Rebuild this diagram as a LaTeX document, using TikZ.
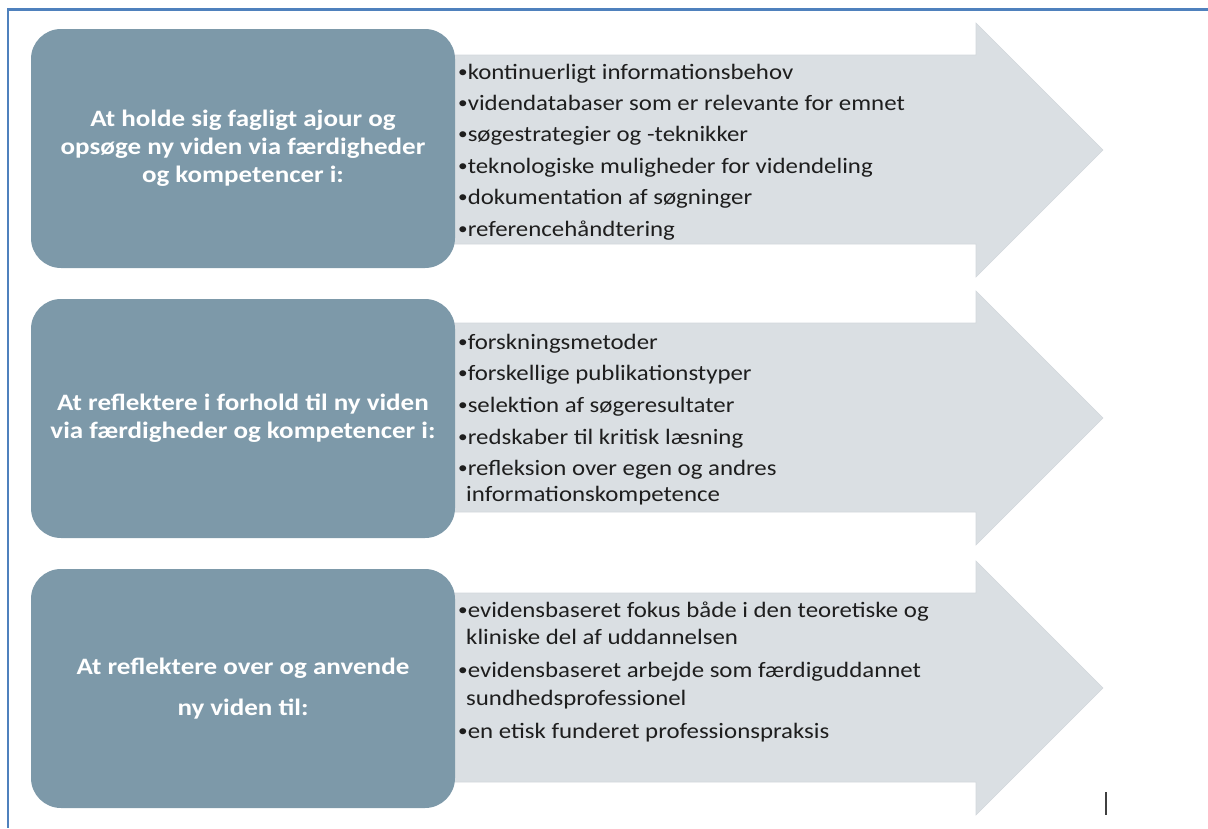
\documentclass[tikz,border=0pt]{standalone}
\usepackage{fontspec}
\setmainfont{Carlito}
\newfontfamily\itemfont[FakeStretch=1.13]{Carlito}
\newfontfamily\headfont[FakeStretch=1.15]{Carlito Bold}
\definecolor{frameblue}{HTML}{4F81BD}
\definecolor{boxslate}{HTML}{7D99A9}
\definecolor{arrowgray}{HTML}{DADFE3}
\definecolor{arrowedge}{HTML}{D3D8DC}
\definecolor{itemtext}{HTML}{1E1E1E}
\definecolor{cursorgray}{HTML}{404040}
\newcommand\itembul{\raisebox{1.6pt}{\fontsize{17}{17}\selectfont•}}
\tikzset{
  headbox/.style={fill=boxslate, draw=none, rounded corners=30pt, minimum width=424pt, minimum height=239pt, inner sep=0pt, align=center, text=white, font=\headfont\fontsize{23.5}{28}\selectfont},
  bigarrow/.style={fill=arrowgray, draw=arrowedge, line width=0.6pt},
  itemline/.style={anchor=base west, inner sep=0pt, text=itemtext, font=\itemfont\fontsize{22}{26.5}\selectfont},
  framerule/.style={draw=frameblue, line width=2.5pt}
}
\begin{document}
\begin{tikzpicture}[x=1pt,y=-1pt]
\path[use as bounding box] (0,0) rectangle (1208,828);
% frame
\coordinate (ftl) at (8,9.5);
\coordinate (ftr) at (1208,9.5);
\coordinate (fbl) at (8,828);
\draw[framerule] (ftr) -- (ftl) -- (fbl);
% arrows
\foreach \c/\n in {150/a1,418/a2,688/a3}{
  \draw[bigarrow] (450,\c-95) -- (976,\c-95) -- (976,\c-127) -- (1103,\c) -- (976,\c+127) -- (976,\c+94) -- (450,\c+94) -- cycle;
}
% boxes
\node[headbox] (b1) at (243,148.5) {At holde sig fagligt ajour og\\opsøge ny viden via færdigheder\\og kompetencer i:};
\node[headbox] (b2) at (243,418.5) {At reflektere i forhold til ny viden\\via færdigheder og kompetencer i:};
\node[headbox] (b3) at (243,688.5) {At reflektere over og anvende\\[13pt]ny viden til:};
% items arrow 1
\node[itemline] (i11) at (458,79) {\itembul kontinuerligt informationsbehov};
\node[itemline] (i12) at (458,110) {\itembul videndatabaser som er relevante for emnet};
\node[itemline] (i13) at (458,141) {\itembul søgestrategier og -teknikker};
\node[itemline] (i14) at (458,173) {\itembul teknologiske muligheder for videndeling};
\node[itemline] (i15) at (458,204) {\itembul dokumentation af søgninger};
\node[itemline] (i16) at (458,236) {\itembul referencehåndtering};
% items arrow 2
\node[itemline] (i21) at (458,349) {\itembul forskningsmetoder};
\node[itemline] (i22) at (458,380) {\itembul forskellige publikationstyper};
\node[itemline] (i23) at (458,412) {\itembul selektion af søgeresultater};
\node[itemline] (i24) at (458,444) {\itembul redskaber til kritisk læsning};
\node[itemline] (i25) at (458,475) {\itembul refleksion over egen og andres};
\node[itemline] (i26) at (466,501) {informationskompetence};
% items arrow 3
\node[itemline] (i31) at (458,617) {\itembul evidensbaseret fokus både i den teoretiske og};
\node[itemline] (i32) at (466,644) {kliniske del af uddannelsen};
\node[itemline] (i33) at (458,677) {\itembul evidensbaseret arbejde som færdiguddannet};
\node[itemline] (i34) at (466,705) {sundhedsprofessionel};
\node[itemline] (i35) at (458,738) {\itembul en etisk funderet professionspraksis};
% cursor mark
\coordinate (cur1) at (1106,792);
\coordinate (cur2) at (1106,815);
\draw[draw=cursorgray, line width=2pt] (cur1) -- (cur2);
\end{tikzpicture}
\end{document}
